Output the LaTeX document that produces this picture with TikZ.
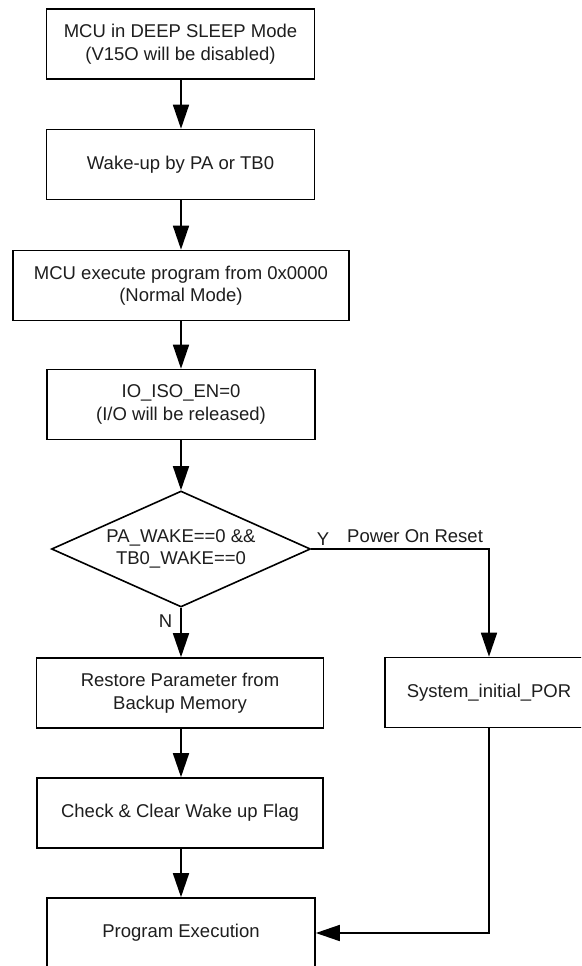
\documentclass[tikz,border=0pt]{standalone}
\usepackage{fontspec}
\setmainfont{Liberation Sans}
\usetikzlibrary{arrows.meta,shapes.geometric}
\definecolor{txt}{RGB}{30,30,30}
\tikzset{
  box/.style={draw=black, line width=1.6pt, minimum height=70pt, align=center, inner sep=0pt, text=txt, font=\fontsize{18.5}{22.5}\selectfont},
  arr/.style={draw=black, line width=1.6pt, -{Triangle[length=24pt,width=16pt]}},
  lbl/.style={text=txt, inner sep=0pt, font=\fontsize{18.5}{22.5}\selectfont},
  decision/.style={diamond, draw=black, line width=1.6pt, minimum width=259pt, minimum height=116pt, shape aspect=2.23, inner sep=0pt, align=center, text=txt, font=\fontsize{18.5}{22.5}\selectfont}
}
\begin{document}
\begin{tikzpicture}[x=1pt,y=-1pt]
\useasboundingbox (0,0) rectangle (581,966);
\clip (0,0) rectangle (581,966);
\fill[white] (0,0) rectangle (581,966);
\node[box, minimum width=268pt] (b1) at (180.5,44) {MCU in DEEP SLEEP Mode\\(V15O will be disabled)};
\node[box, minimum width=268pt] (b2) at (180.5,164.5) {Wake-up by PA or TB0};
\node[box, minimum width=336pt] (b3) at (181,285.5) {MCU execute program from 0x0000\\(Normal Mode)};
\node[box, minimum width=268pt] (b4) at (181,404.5) {IO\_ISO\_EN=0\\(I/O will be released)};
\node[decision] (dec) at (181,549) {PA\_WAKE==0 \&\&\\TB0\_WAKE==0};
\node[box, minimum width=287pt] (b5) at (180,693) {Restore Parameter from\\Backup Memory};
\node[box, minimum width=208pt] (por) at (489,692.5) {System\_initial\_POR};
\node[box, minimum width=286pt] (b6) at (180,813) {Check \& Clear Wake up Flag};
\node[box, minimum width=268pt] (b7) at (181,933) {Program Execution};
\node[lbl] (ly) at (323,539) {Y};
\node[lbl, anchor=west] (lpor) at (347,536) {Power On Reset};
\node[lbl] (ln) at (165.5,621) {N};
\draw[arr] (b1.south -| 181,0) -- (b2.north -| 181,0);
\draw[arr] (b2.south -| 181,0) -- (b3.north -| 181,0);
\draw[arr] (b3.south) -- (b4.north);
\draw[arr] (b4.south) -- (dec.north);
\draw[arr] (dec.south) -- (dec.south |- b5.north);
\draw[arr] (dec.south |- b5.south) -- (dec.south |- b6.north);
\draw[arr] (dec.south |- b6.south) -- (b7.north);
\draw[arr] (dec.east) -| (por.north);
\draw[arr] (por.south) |- (b7.east);
\end{tikzpicture}
\end{document}
